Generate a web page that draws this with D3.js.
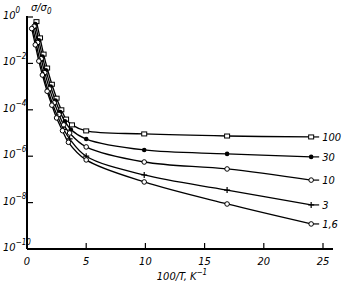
<!DOCTYPE html>
<meta charset="utf-8">
<head>
<style>
  body { margin: 0; background: #fff; }
  text { font-family: "Liberation Sans Narrow", "DejaVu Sans Condensed", sans-serif; font-style: italic; fill: #000; }
</style>
</head>
<body>
<div id="chart"></div>
<script src="https://d3js.org/d3.v7.min.js"></script>
<script>
// series labels (sigma_0 / ... ratio) and their marker kinds
const seriesNames = ["100", "30", "10", "3", "1,6"];
const markerKinds = ["square", "dot", "circle", "plus", "circle"];

// 100/T values and log10(sigma/sigma0)
const invT100 = [0.8, 1.1, 1.4, 1.7, 2.1, 2.5, 2.9, 3.3, 3.8, 5.0, 9.9, 16.9, 24.0];
const logS100 = [-0.2, -0.9, -1.6, -2.2, -2.9, -3.5, -4.0, -4.4, -4.65, -4.91, -5.04, -5.13, -5.17];
const invT30 = [0.7, 1.0, 1.3, 1.6, 2.0, 2.4, 2.8, 3.2, 3.7, 5.0, 9.9, 16.9, 24.0];
const logS30 = [-0.3, -1.0, -1.7, -2.3, -3.0, -3.6, -4.1, -4.5, -4.85, -5.26, -5.73, -5.9, -6.03];
const invT10 = [0.6, 0.9, 1.2, 1.5, 1.9, 2.3, 2.7, 3.1, 3.6, 5.0, 9.9, 16.9, 24.0];
const logS10 = [-0.4, -1.1, -1.8, -2.4, -3.1, -3.7, -4.2, -4.65, -5.0, -5.6, -6.25, -6.55, -7.03];
const invT3 = [0.5, 0.8, 1.1, 1.4, 1.8, 2.2, 2.6, 3.1, 3.6, 5.0, 9.9, 16.9, 24.0];
const logS3 = [-0.5, -1.2, -1.9, -2.5, -3.2, -3.8, -4.3, -4.85, -5.25, -6.0, -6.81, -7.46, -8.1];
const invT16 = [0.4, 0.7, 1.0, 1.3, 1.7, 2.1, 2.5, 3.0, 3.5, 5.0, 9.9, 16.9, 24.0];
const logS16 = [-0.5, -1.2, -1.9, -2.5, -3.2, -3.8, -4.35, -4.9, -5.4, -6.16, -7.11, -8.06, -8.92];

const xTicks = [0, 5, 10, 15, 20, 25];
const yTickExp = [0, -2, -4, -6, -8, -10];

const width = 354, height = 285;
const svg = d3.select("#chart").append("svg")
  .attr("width", width).attr("height", height);

const x = d3.scaleLinear().domain([0, 25]).range([27, 323]);
const y = d3.scaleLog().domain([1e-10, 1]).range([249, 17]);

const allX = [invT100, invT30, invT10, invT3, invT16];
const allY = [logS100, logS30, logS10, logS3, logS16];
const series = seriesNames.map((name, i) => ({
  name: name,
  kind: markerKinds[i],
  pts: allX[i].map((v, j) => ({ x: v, s: Math.pow(10, allY[i][j]) }))
}));

const line = d3.line()
  .x(d => x(d.x)).y(d => y(d.s))
  .curve(d3.curveCatmullRom.alpha(0.5));

const g = svg.append("g");

g.selectAll("path.curve")
  .data(series)
  .join("path")
  .attr("class", "curve")
  .attr("fill", "none")
  .attr("stroke", "#000")
  .attr("stroke-width", 1.3)
  .attr("d", d => line(d.pts));

// leader from last point to label
g.selectAll("line.lead")
  .data(series)
  .join("line")
  .attr("stroke", "#000")
  .attr("stroke-width", 1.2)
  .attr("x1", d => x(d.pts[d.pts.length - 1].x))
  .attr("x2", d => x(d.pts[d.pts.length - 1].x) + 8)
  .attr("y1", d => y(d.pts[d.pts.length - 1].s))
  .attr("y2", d => y(d.pts[d.pts.length - 1].s));

// markers
series.forEach(sr => {
  const mg = g.append("g");
  sr.pts.forEach(p => {
    const cx = x(p.x), cy = y(p.s);
    if (sr.kind === "square") {
      mg.append("rect").attr("x", cx - 2.5).attr("y", cy - 2).attr("width", 5).attr("height", 4)
        .attr("fill", "#fff").attr("stroke", "#000").attr("stroke-width", 1);
    } else if (sr.kind === "dot") {
      mg.append("circle").attr("cx", cx).attr("cy", cy).attr("r", 2.3).attr("fill", "#000");
    } else if (sr.kind === "circle") {
      mg.append("circle").attr("cx", cx).attr("cy", cy).attr("r", 2.3)
        .attr("fill", "#fff").attr("stroke", "#000").attr("stroke-width", 1);
    } else {
      mg.append("path").attr("d", `M${cx - 3},${cy}H${cx + 3}M${cx},${cy - 3}V${cy + 3}`)
        .attr("stroke", "#000").attr("stroke-width", 1.2);
    }
  });
});

// series labels
g.selectAll("text.lab")
  .data(series)
  .join("text")
  .attr("x", d => x(d.pts[d.pts.length - 1].x) + 11)
  .attr("y", d => y(d.pts[d.pts.length - 1].s) + 4)
  .attr("font-size", 11)
  .text(d => d.name);

// axes
const ax = svg.append("g");
ax.append("line").attr("x1", x(0)).attr("x2", 333).attr("y1", 249).attr("y2", 249)
  .attr("stroke", "#000").attr("stroke-width", 2);
ax.append("line").attr("x1", x(0)).attr("x2", x(0)).attr("y1", 249).attr("y2", 16)
  .attr("stroke", "#000").attr("stroke-width", 2);

ax.selectAll("line.xt").data(xTicks.slice(1)).join("line")
  .attr("x1", d => x(d)).attr("x2", d => x(d)).attr("y1", 249).attr("y2", 243)
  .attr("stroke", "#000").attr("stroke-width", 1.2);
ax.selectAll("text.xl").data(xTicks).join("text")
  .attr("x", d => x(d)).attr("y", 265).attr("text-anchor", "middle")
  .attr("font-size", 11).text(d => d);

ax.selectAll("line.yt").data(yTickExp.slice(0, 5)).join("line")
  .attr("x1", x(0)).attr("x2", x(0) + 6).attr("y1", d => y(Math.pow(10, d))).attr("y2", d => y(Math.pow(10, d)))
  .attr("stroke", "#000").attr("stroke-width", 1.2);
const yl = ax.selectAll("text.yl").data(yTickExp).join("text")
  .attr("x", 3).attr("y", d => y(Math.pow(10, d)) + 2)
  .attr("font-size", 11);
yl.append("tspan").text("10");
yl.append("tspan").attr("dy", -6).attr("font-size", 8).text(d => d === 0 ? "0" : "\u2212" + (-d));

// axis titles
const yt = svg.append("text").attr("x", 31).attr("y", 11).attr("font-size", 11);
yt.append("tspan").text("σ/σ");
yt.append("tspan").attr("dy", 3).attr("font-size", 8).text("0");

const xt = svg.append("text").attr("x", 182).attr("y", 280).attr("text-anchor", "middle").attr("font-size", 11);
xt.append("tspan").text("100/T, K");
xt.append("tspan").attr("dy", -5).attr("font-size", 8).text("\u22121");
</script>
</body>
